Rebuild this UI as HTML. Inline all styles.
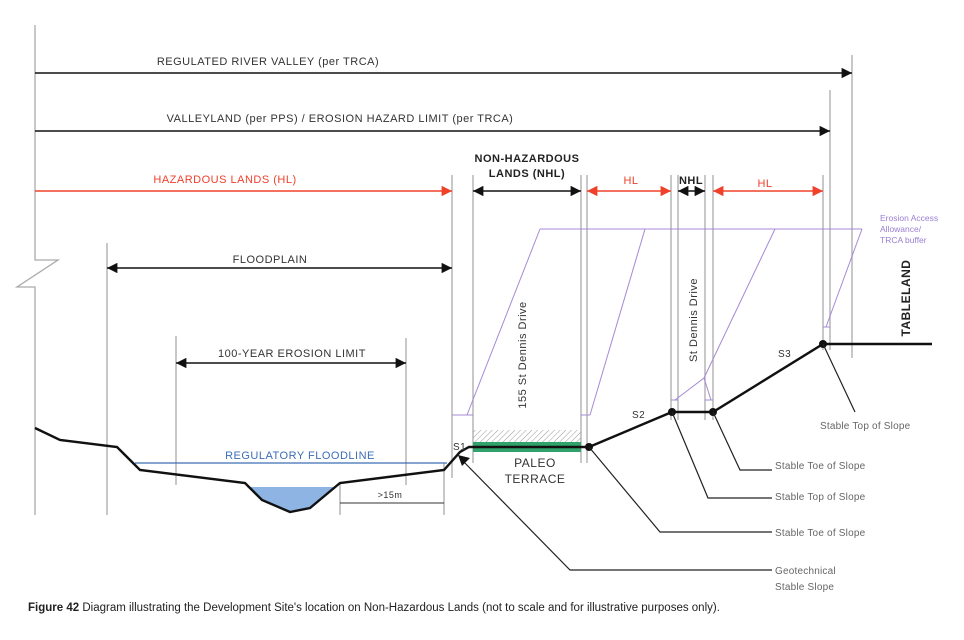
<!DOCTYPE html>
<html><head><meta charset="utf-8"><style>
body{margin:0;background:#fff}
svg{display:block}
text{font-family:"Liberation Sans",sans-serif}
</style></head><body>
<svg width="964" height="640" viewBox="0 0 964 640" xmlns="http://www.w3.org/2000/svg">
<defs>
<marker id="ab" viewBox="0 0 10 10" refX="10" refY="5" markerWidth="6.5" markerHeight="6.5" orient="auto-start-reverse"><path d="M0,0L10,5L0,10z" fill="#111"/></marker>
<marker id="ar" viewBox="0 0 10 10" refX="10" refY="5" markerWidth="6.5" markerHeight="6.5" orient="auto-start-reverse"><path d="M0,0L10,5L0,10z" fill="#f0402a"/></marker>
<pattern id="h" width="4" height="4" patternUnits="userSpaceOnUse" patternTransform="rotate(45)"><line x1="0" y1="0" x2="0" y2="4" stroke="#999" stroke-width="1"/></pattern>
</defs>
<g stroke="#aaa" stroke-width="1.3" fill="none">
<path d="M35,25V260H58L17,287H35V515"/>
<line x1="107" y1="243" x2="107" y2="515"/>
<line x1="176" y1="336" x2="176" y2="485"/>
<line x1="406" y1="338" x2="406" y2="485"/>
<line x1="340" y1="483" x2="340" y2="515"/>
<line x1="444" y1="463" x2="444" y2="515"/>
<line x1="452" y1="175" x2="452" y2="478"/>
<line x1="473" y1="175" x2="473" y2="463"/>
<line x1="581" y1="175" x2="581" y2="463"/>
<line x1="587" y1="175" x2="587" y2="463"/>
<line x1="671" y1="175" x2="671" y2="420"/>
<line x1="678" y1="175" x2="678" y2="420"/>
<line x1="705" y1="175" x2="705" y2="420"/>
<line x1="713" y1="175" x2="713" y2="420"/>
<line x1="823" y1="175" x2="823" y2="350"/>
<line x1="830" y1="90" x2="830" y2="350"/>
<line x1="852" y1="55" x2="852" y2="358"/>
</g>
<g stroke="#111" stroke-width="1.6">
<line x1="35" y1="73" x2="852" y2="73" marker-end="url(#ab)"/>
<line x1="35" y1="131" x2="830" y2="131" marker-end="url(#ab)"/>
<line x1="473" y1="191" x2="581" y2="191" marker-start="url(#ab)" marker-end="url(#ab)"/>
<line x1="678" y1="191" x2="705" y2="191" marker-start="url(#ab)" marker-end="url(#ab)"/>
<line x1="107" y1="268" x2="452" y2="268" marker-start="url(#ab)" marker-end="url(#ab)"/>
<line x1="176" y1="363" x2="406" y2="363" marker-start="url(#ab)" marker-end="url(#ab)"/>
</g>
<g stroke="#f0402a" stroke-width="1.6">
<line x1="35" y1="191" x2="452" y2="191" marker-end="url(#ar)"/>
<line x1="587" y1="191" x2="671" y2="191" marker-start="url(#ar)" marker-end="url(#ar)"/>
<line x1="713" y1="191" x2="823" y2="191" marker-start="url(#ar)" marker-end="url(#ar)"/>
</g>
<line x1="340" y1="503" x2="444" y2="503" stroke="#333" stroke-width="1"/>
<g stroke="#a58ad6" stroke-width="1" fill="none">
<line x1="540" y1="229" x2="862" y2="229"/>
<line x1="540" y1="229" x2="467" y2="415"/>
<line x1="645" y1="229" x2="590" y2="415"/>
<path d="M775,229L704,378L675,400M704,378L711,400"/>
<line x1="862" y1="229" x2="826" y2="327"/>
<line x1="452" y1="415" x2="473" y2="415"/><line x1="581" y1="415" x2="590" y2="415"/>
<line x1="671" y1="400" x2="678" y2="400"/><line x1="705" y1="400" x2="713" y2="400"/>
<line x1="823" y1="327" x2="830" y2="327"/>
</g>
<path d="M247,487H335L310,508L290,512L262,500Z" fill="#8db4e2"/>
<line x1="135" y1="463" x2="447" y2="463" stroke="#3d6db5" stroke-width="1.2"/>
<rect x="473" y="430" width="108" height="12" fill="url(#h)"/>
<rect x="473" y="442" width="108" height="10" fill="#2fa36b"/>
<polyline points="35,428 60,440 117,447 140,470 245,483 262,500 290,512 310,508 340,483 444,470 460,452 469,447 589,447 672,412 713,412 823,344 932,344" fill="none" stroke="#111" stroke-width="2.4"/>
<g fill="#111"><circle cx="589" cy="447" r="4"/><circle cx="672" cy="412" r="4"/><circle cx="713" cy="412" r="4"/><circle cx="823" cy="344" r="4"/></g>
<g stroke="#222" stroke-width="1.2" fill="none">
<polyline points="823,344 855,412"/>
<polyline points="713,412 740,470 772,470"/>
<polyline points="672,412 708,498 772,498"/>
<polyline points="589,447 660,532 772,532"/>
<polyline points="460,458 570,570 772,570"/>
</g>
<path d="M458,455L470,458L462,466Z" fill="#111"/>
<g font-size="11" fill="#333" letter-spacing="0.5">
<text x="268" y="65" text-anchor="middle">REGULATED RIVER VALLEY (per TRCA)</text>
<text x="340" y="122" text-anchor="middle">VALLEYLAND (per PPS) / EROSION HAZARD LIMIT (per TRCA)</text>
<text x="527" y="162" text-anchor="middle" font-weight="bold" fill="#222">NON-HAZARDOUS</text>
<text x="527" y="177" text-anchor="middle" font-weight="bold" fill="#222">LANDS (NHL)</text>
<text x="691" y="184" text-anchor="middle" font-weight="bold" fill="#222">NHL</text>
<text x="270" y="263" text-anchor="middle">FLOODPLAIN</text>
<text x="292" y="357" text-anchor="middle">100-YEAR EROSION LIMIT</text>
<text x="535" y="467" text-anchor="middle" font-size="12">PALEO</text>
<text x="535" y="483" text-anchor="middle" font-size="12">TERRACE</text>
<text x="453" y="450" font-size="10">S1</text>
<text x="632" y="418" font-size="10">S2</text>
<text x="778" y="357" font-size="10">S3</text>
<text x="390" y="498" text-anchor="middle" font-size="9">&gt;15m</text>
<text transform="translate(526,355) rotate(-90)" text-anchor="middle" font-size="11">155 St Dennis Drive</text>
<text transform="translate(697,320) rotate(-90)" text-anchor="middle" font-size="11">St Dennis Drive</text>
<text transform="translate(910,298) rotate(-90)" text-anchor="middle" font-size="12" font-weight="bold" fill="#222">TABLELAND</text>
<g font-size="10" fill="#666" letter-spacing="0.2">
<text x="820" y="429">Stable Top of Slope</text>
<text x="775" y="469">Stable Toe of Slope</text>
<text x="775" y="500">Stable Top of Slope</text>
<text x="775" y="536">Stable Toe of Slope</text>
<text x="775" y="574">Geotechnical</text>
<text x="775" y="590">Stable Slope</text>
</g>
</g>
<g font-size="11" fill="#f0402a" letter-spacing="0.5">
<text x="225" y="183" text-anchor="middle">HAZARDOUS LANDS (HL)</text>
<text x="631" y="184" text-anchor="middle">HL</text>
<text x="765" y="187" text-anchor="middle">HL</text>
</g>
<text x="300" y="459" text-anchor="middle" font-size="11" fill="#3d6db5" letter-spacing="0.5">REGULATORY FLOODLINE</text>
<g font-size="8.5" fill="#9a7fd0"><text x="880" y="221">Erosion Access</text><text x="880" y="232">Allowance/</text><text x="880" y="243">TRCA buffer</text></g>
<text x="28" y="611" font-size="11.5" fill="#222"><tspan font-weight="bold">Figure 42</tspan>  Diagram illustrating the Development Site's location on Non-Hazardous Lands (not to scale and for illustrative purposes only).</text>
</svg>
</body></html>
